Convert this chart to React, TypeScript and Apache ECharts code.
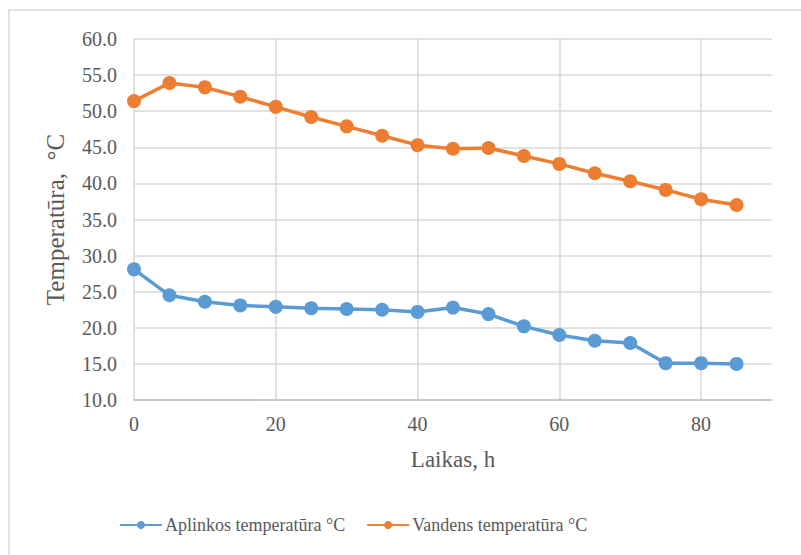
import React, { useEffect, useRef } from "react";
import * as echarts from "echarts";

// Measurement times, h
const hours = [0, 5, 10, 15, 20, 25, 30, 35, 40, 45, 50, 55, 60, 65, 70, 75, 80, 85];

// Ambient temperature, °C
const ambientTemp = [28.1, 24.5, 23.6, 23.1, 22.9, 22.7, 22.6, 22.5, 22.2, 22.8, 21.9, 20.2, 19.0, 18.2, 17.9, 15.1, 15.1, 15.0];

// Water temperature, °C
const waterTemp = [51.4, 53.9, 53.3, 52.0, 50.6, 49.2, 47.9, 46.6, 45.3, 44.8, 44.9, 43.8, 42.7, 41.4, 40.3, 39.1, 37.8, 37.0];

const seriesNames = ["Aplinkos temperatūra °C", "Vandens temperatūra °C"];
const seriesColors = ["#5B9BD5", "#ED7D31"];

const FONT = "Liberation Serif";
const GRID = "#d9d9d9";
const LABEL = "#595959";

export default function App() {
  const ref = useRef<HTMLDivElement>(null);

  useEffect(() => {
    if (!ref.current) return;
    const chart = echarts.init(ref.current, undefined, { renderer: "svg" });

    const makeSeries = (name: string, values: number[], color: string) => ({
      name,
      type: "line",
      data: hours.map((h, i) => [h, values[i]]),
      symbol: "circle",
      symbolSize: 14,
      itemStyle: { color },
      lineStyle: { color, width: 3.5 },
    });

    chart.setOption({
      animation: false,
      backgroundColor: "#ffffff",
      textStyle: { fontFamily: FONT },
      graphic: [
        {
          type: "rect",
          shape: { x: 9, y: 10, width: 900, height: 700 },
          style: { fill: "none", stroke: GRID, lineWidth: 1.5 },
          silent: true,
        },
      ],
      grid: { left: 134, right: 29, top: 39, bottom: 155 },
      legend: {
        left: 114,
        top: 511,
        itemWidth: 42,
        itemHeight: 10,
        itemGap: 21,
        textStyle: { fontFamily: FONT, fontSize: 18, color: LABEL, padding: [0, 0, 0, -2] },
        data: seriesNames,
      },
      xAxis: {
        type: "value",
        min: 0,
        max: 90,
        interval: 20,
        name: "Laikas, h",
        nameLocation: "middle",
        nameGap: 48,
        nameTextStyle: { fontFamily: FONT, fontSize: 23, color: LABEL },
        axisLine: { show: true, lineStyle: { color: "#bfbfbf", width: 1.5 } },
        axisTick: { show: false },
        axisLabel: {
          margin: 14,
          fontFamily: FONT,
          fontSize: 20,
          color: LABEL,
          formatter: (v: number) => (v % 20 === 0 ? String(v) : ""),
        },
        splitLine: {
          show: true,
          lineStyle: {
            color: [GRID, GRID, GRID, GRID, GRID, "rgba(0,0,0,0)"],
            width: 1.5,
          },
        },
      },
      yAxis: {
        type: "value",
        min: 10,
        max: 60,
        interval: 5,
        name: "Temperatūra,  °C",
        nameLocation: "middle",
        nameGap: 66,
        nameTextStyle: { fontFamily: FONT, fontSize: 25, color: LABEL },
        axisLine: { show: false },
        axisTick: { show: false },
        axisLabel: {
          margin: 17,
          fontFamily: FONT,
          fontSize: 20,
          color: LABEL,
          formatter: (v: number) => v.toFixed(1),
        },
        splitLine: { show: true, lineStyle: { color: GRID, width: 1.5 } },
      },
      series: [
        makeSeries(seriesNames[0], ambientTemp, seriesColors[0]),
        makeSeries(seriesNames[1], waterTemp, seriesColors[1]),
      ],
    });

    return () => chart.dispose();
  }, []);

  return (
    <div
      ref={ref}
      style={{ position: "fixed", left: 0, top: 0, width: 801, height: 555, background: "#fff" }}
    />
  );
}
